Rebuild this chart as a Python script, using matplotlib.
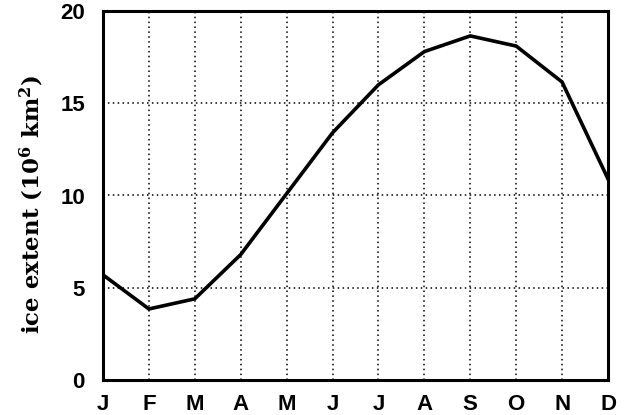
import matplotlib.pyplot as plt
import numpy as np

# Monthly sea ice extent, 10^6 km^2
months = ['J', 'F', 'M', 'A', 'M', 'J', 'J', 'A', 'S', 'O', 'N', 'D']
extent = [5.7, 3.85, 4.4, 6.8, 10.1, 13.4, 16.0, 17.8, 18.65, 18.1, 16.15, 10.9]
yticks = [0, 5, 10, 15, 20]

plt.rcParams['mathtext.fontset'] = 'dejavuserif'

fig = plt.figure(figsize=(6.24, 4.15), dpi=100)
ax = fig.add_axes([103 / 624, 35 / 415, 505 / 624, 369 / 415])

x = np.arange(len(months))
ax.plot(x, extent, color='black', lw=2.6, solid_joinstyle='miter')

ax.set_xlim(0, 11)
ax.set_ylim(0, 20)
ax.set_xticks(x)
ax.set_xticklabels(months)
ax.set_yticks(yticks)
ax.grid(True, color='black', ls=(0, (1, 2.2)), lw=1.1)
ax.tick_params(length=0, labelsize=16)
ax.tick_params(axis='x', pad=10)
ax.tick_params(axis='y', pad=13)
for lab in ax.get_xticklabels() + ax.get_yticklabels():
    lab.set_fontfamily('Liberation Sans')
    lab.set_fontweight('bold')
for s in ax.spines.values():
    s.set_linewidth(2.2)

ax.set_ylabel(r'ice extent (10$^\mathbf{6}$ km$^\mathbf{2}$)', fontsize=16.5,
              fontfamily='DejaVu Serif', fontweight='bold')
ax.yaxis.set_label_coords(-0.112, 0.475)

fig.savefig('out.png', dpi=100)
